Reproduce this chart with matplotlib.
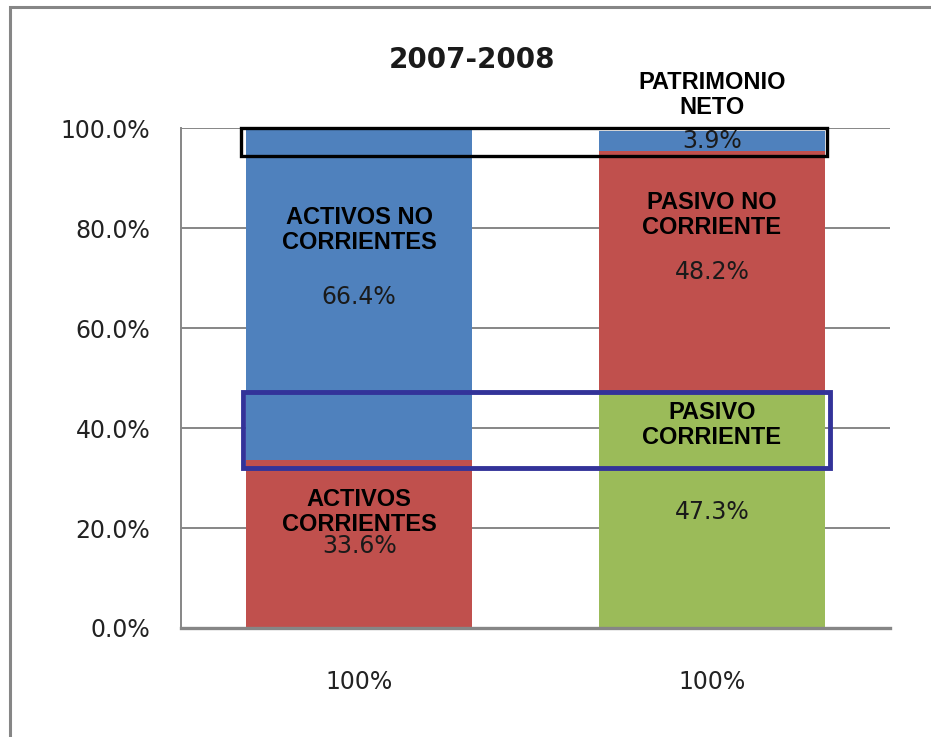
import matplotlib.pyplot as plt
import matplotlib.patches as patches

# data
categories = ["100%", "100%"]
left_segments = ["ACTIVOS CORRIENTES", "ACTIVOS NO CORRIENTES"]
left_values = [33.6, 66.4]
right_segments = ["PASIVO CORRIENTE", "PASIVO NO CORRIENTE", "PATRIMONIO NETO"]
right_values = [47.3, 48.2, 3.9]
yticks = [0, 20, 40, 60, 80, 100]

BLUE = "#4F81BD"
RED = "#C0504D"
GREEN = "#9BBB59"
GRID = "#868686"

fig = plt.figure(figsize=(9.31, 7.37), dpi=100)
ax = fig.add_axes([0.1944, 0.1479, 0.7616, 0.6784])

# outer chart frame (runs past right/bottom edge like the screenshot)
fig.add_artist(patches.Rectangle((10 / 931, -0.1), 1.2, 1 - 7 / 737 + 0.1,
                                 transform=fig.transFigure, fill=False,
                                 edgecolor=GRID, linewidth=2.2))

width = 0.64
# left bar
bottom = 0
for val, col in zip(left_values, [RED, BLUE]):
    ax.bar(0, val, width, bottom=bottom, color=col, zorder=2)
    bottom += val
# right bar
bottom = 0
for val, col in zip(right_values, [GREEN, RED, BLUE]):
    ax.bar(1, val, width, bottom=bottom, color=col, zorder=2)
    bottom += val

ax.set_xlim(-0.505, 1.505)
ax.set_ylim(0, 100)
ax.set_yticks(yticks)
ax.set_yticklabels([f"{v:.1f}%" for v in yticks], fontsize=17, color="#222222")
ax.set_xticks([0, 1])
ax.set_xticklabels(categories, fontsize=17, color="#222222")
ax.tick_params(axis="y", length=0, pad=22)
ax.tick_params(axis="x", length=0, pad=30)
ax.grid(axis="y", color=GRID, linewidth=1.4, zorder=1)
ax.set_axisbelow(True)
for s in ["top", "right"]:
    ax.spines[s].set_visible(False)
ax.spines["left"].set_color(GRID)
ax.spines["left"].set_linewidth(1.4)
ax.spines["bottom"].set_color(GRID)
ax.spines["bottom"].set_linewidth(2.4)

# highlight boxes
ax.add_patch(patches.Rectangle((-0.335, 94.4), 1.66, 5.6, fill=False,
                               edgecolor="black", linewidth=2.4, zorder=4,
                               clip_on=False))
ax.add_patch(patches.Rectangle((-0.33, 32.0), 1.665, 15.3, fill=False,
                               edgecolor="#333399", linewidth=3.5, zorder=4,
                               clip_on=False))

# segment labels
bold = dict(fontsize=17, fontweight="bold", ha="center", va="center",
            family="Liberation Sans", color="black", zorder=5, linespacing=1.15)
pct = dict(fontsize=17, ha="center", va="center", color="#1a1a1a", zorder=5)

ax.text(0, 79.6, "ACTIVOS NO\nCORRIENTES", **bold)
ax.text(0, 66.2, f"{left_values[1]}%", **pct)
ax.text(0, 23.2, "ACTIVOS\nCORRIENTES", **bold)
ax.text(0, 16.4, f"{left_values[0]}%", **pct)

ax.text(1, 82.6, "PASIVO NO\nCORRIENTE", **bold)
ax.text(1, 71.2, f"{right_values[1]}%", **pct)
ax.text(1, 40.6, "PASIVO\nCORRIENTE", **bold)
ax.text(1, 23.2, f"{right_values[0]}%", **pct)
ax.text(1, 106.6, "PATRIMONIO\nNETO", clip_on=False, **bold)
ax.text(1, 97.4, f"{right_values[2]}%", **pct)

fig.text(472 / 931, 1 - 60 / 737, "2007-2008", fontsize=20, ha="center",
         va="center", color="#1a1a1a", fontweight="bold")

fig.savefig("out.png", dpi=100)
